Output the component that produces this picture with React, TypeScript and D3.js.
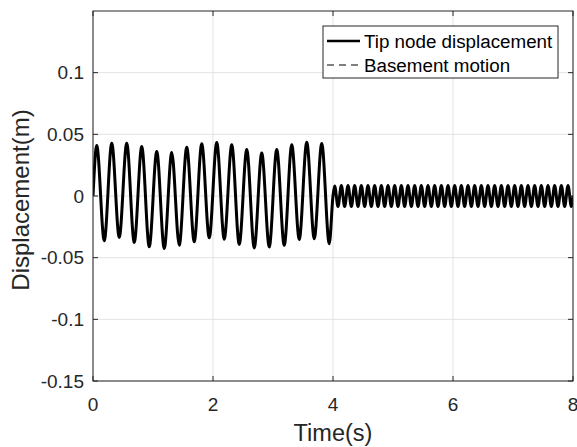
import React from "react";
import * as d3 from "d3";

const xTicks = [0, 2, 4, 6, 8];
const xTickLabels = ["0", "2", "4", "6", "8"];
const yTicks = [-0.15, -0.1, -0.05, 0, 0.05, 0.1];
const yTickLabels = ["-0.15", "-0.1", "-0.05", "0", "0.05", "0.1"];
const seriesNames = ["Tip node displacement", "Basement motion"];
const xLabel = "Time(s)";
const yLabel = "Displacement(m)";

// Phase 1 (0–4 s): extreme points (start, then alternating peak / trough)
const phase1Times = [
  0, 0.0625, 0.1875, 0.3125, 0.4375, 0.5625, 0.6875, 0.8125, 0.9375, 1.0625, 1.1875,
  1.3125, 1.4375, 1.5625, 1.6875, 1.8125, 1.9375, 2.0625, 2.1875, 2.3125, 2.4375,
  2.5625, 2.6875, 2.8125, 2.9375, 3.0625, 3.1875, 3.3125, 3.4375, 3.5625, 3.6875,
  3.8125, 3.9375,
];
const phase1Tip = [
  0, 0.0409, -0.0363, 0.0428, -0.0336, 0.0428, -0.0377, 0.0401, -0.0412, 0.036, -0.0425,
  0.0352, -0.0399, 0.0395, -0.0371, 0.0423, -0.0339, 0.0434, -0.035, 0.0415, -0.0393,
  0.0377, -0.0421, 0.0348, -0.0413, 0.0377, -0.04, 0.0415, -0.0352, 0.0436, -0.0346,
  0.0425, -0.0387,
];
const phase1Base = [
  0, 0.0402, -0.0358, 0.0421, -0.0332, 0.0421, -0.0371, 0.0395, -0.0405, 0.0356, -0.0418,
  0.0348, -0.0393, 0.0389, -0.0366, 0.0416, -0.0335, 0.0427, -0.0346, 0.0408, -0.0387,
  0.0372, -0.0414, 0.0344, -0.0406, 0.0372, -0.0394, 0.0408, -0.0348, 0.0429, -0.0342,
  0.0418, -0.0381,
];

// Phase 2 (4–8 s): extreme points (start, alternating peak / trough, end)
const phase2Times = [
  4.0,
  4.028, 4.083, 4.139, 4.194, 4.25, 4.306, 4.361, 4.417, 4.472, 4.528, 4.583, 4.639,
  4.694, 4.75, 4.806, 4.861, 4.917, 4.972, 5.028, 5.083, 5.139, 5.194, 5.25, 5.306,
  5.361, 5.417, 5.472, 5.528, 5.583, 5.639, 5.694, 5.75, 5.806, 5.861, 5.917, 5.972,
  6.028, 6.083, 6.139, 6.194, 6.25, 6.306, 6.361, 6.417, 6.472, 6.528, 6.583, 6.639,
  6.694, 6.75, 6.806, 6.861, 6.917, 6.972, 7.028, 7.083, 7.139, 7.194, 7.25, 7.306,
  7.361, 7.417, 7.472, 7.528, 7.583, 7.639, 7.694, 7.75, 7.806, 7.861, 7.917, 7.972,
  8.0,
];
const phase2Tip = [
  0,
  0.0082, -0.0085, 0.0085, -0.0085, 0.0085, -0.0085, 0.0085, -0.0085, 0.0085, -0.0085, 0.0085, -0.0085,
  0.0085, -0.0085, 0.0085, -0.0085, 0.0085, -0.0085, 0.0085, -0.0085, 0.0085, -0.0085, 0.0085, -0.0085,
  0.0085, -0.0085, 0.0085, -0.0085, 0.0085, -0.0085, 0.0085, -0.0085, 0.0085, -0.0085, 0.0085, -0.0085,
  0.0085, -0.0085, 0.0085, -0.0085, 0.0085, -0.0085, 0.0085, -0.0085, 0.0085, -0.0085, 0.0085, -0.0085,
  0.0085, -0.0085, 0.0085, -0.0085, 0.0085, -0.0085, 0.0085, -0.0085, 0.0085, -0.0085, 0.0085, -0.0085,
  0.0085, -0.0085, 0.0085, -0.0085, 0.0085, -0.0085, 0.0085, -0.0085, 0.0085, -0.0085, 0.0085, -0.0085,
  0,
];
const phase2Base = [
  0,
  0.0078, -0.008, 0.008, -0.008, 0.008, -0.008, 0.008, -0.008, 0.008, -0.008, 0.008, -0.008,
  0.008, -0.008, 0.008, -0.008, 0.008, -0.008, 0.008, -0.008, 0.008, -0.008, 0.008, -0.008,
  0.008, -0.008, 0.008, -0.008, 0.008, -0.008, 0.008, -0.008, 0.008, -0.008, 0.008, -0.008,
  0.008, -0.008, 0.008, -0.008, 0.008, -0.008, 0.008, -0.008, 0.008, -0.008, 0.008, -0.008,
  0.008, -0.008, 0.008, -0.008, 0.008, -0.008, 0.008, -0.008, 0.008, -0.008, 0.008, -0.008,
  0.008, -0.008, 0.008, -0.008, 0.008, -0.008, 0.008, -0.008, 0.008, -0.008, 0.008, -0.008,
  0,
];

const W = 577;
const H = 447;
const left = 93;
const right = 573;
const top = 11;
const bottom = 381;
const axisColor = "#262626";
const gridColor = "#e3e3e3";
const font = "'Liberation Sans', Arial, Helvetica, sans-serif";

export default function App() {
  const x = d3.scaleLinear().domain([0, 8]).range([left, right]);
  const y = d3.scaleLinear().domain([-0.15, 0.15]).range([bottom, top]);

  const times = [...phase1Times, ...phase2Times];
  const tip = [...phase1Tip, ...phase2Tip];
  const base = [...phase1Base, ...phase2Base];

  const line = d3
    .line<[number, number]>()
    .x((d) => x(d[0]))
    .y((d) => y(d[1]))
    .curve(d3.curveMonotoneX);

  const tipPath = line(times.map((t, i) => [t, tip[i]] as [number, number])) || "";
  const basePath = line(times.map((t, i) => [t, base[i]] as [number, number])) || "";

  const tickLen = 5;

  return (
    <svg
      width={W}
      height={H}
      style={{ position: "absolute", left: 0, top: 0, background: "#fff" }}
      fontFamily={font}
    >
      <defs>
        <clipPath id="plotClip">
          <rect x={left} y={top} width={right - left} height={bottom - top} />
        </clipPath>
      </defs>
      <rect x={0} y={0} width={W} height={H} fill="#fff" />
      {/* grid */}
      {xTicks.map((t) => (
        <line key={"gx" + t} x1={x(t)} x2={x(t)} y1={top} y2={bottom} stroke={gridColor} strokeWidth={1} />
      ))}
      {yTicks.map((t) => (
        <line key={"gy" + t} x1={left} x2={right} y1={y(t)} y2={y(t)} stroke={gridColor} strokeWidth={1} />
      ))}
      {/* data */}
      <g clipPath="url(#plotClip)">
        <path d={tipPath} fill="none" stroke="#000" strokeWidth={3} strokeLinejoin="round" />
        <path d={basePath} fill="none" stroke="#000" strokeWidth={1} strokeDasharray="6,4" />
      </g>
      {/* box */}
      <rect x={left} y={top} width={right - left} height={bottom - top} fill="none" stroke={axisColor} strokeWidth={1} />
      {/* ticks */}
      {xTicks.map((t) => (
        <g key={"tx" + t}>
          <line x1={x(t)} x2={x(t)} y1={bottom} y2={bottom - tickLen} stroke={axisColor} />
          <line x1={x(t)} x2={x(t)} y1={top} y2={top + tickLen} stroke={axisColor} />
        </g>
      ))}
      {yTicks.map((t) => (
        <g key={"ty" + t}>
          <line x1={left} x2={left + tickLen} y1={y(t)} y2={y(t)} stroke={axisColor} />
          <line x1={right} x2={right - tickLen} y1={y(t)} y2={y(t)} stroke={axisColor} />
        </g>
      ))}
      {/* tick labels */}
      {xTicks.map((t, i) => (
        <text key={"lx" + t} x={x(t)} y={411} textAnchor="middle" fontSize={19} fill={axisColor}>
          {xTickLabels[i]}
        </text>
      ))}
      {yTicks.map((t, i) => (
        <text key={"ly" + t} x={84} y={y(t)} textAnchor="end" dominantBaseline="central" fontSize={19} fill={axisColor}>
          {yTickLabels[i]}
        </text>
      ))}
      {/* axis labels */}
      <text x={(left + right) / 2} y={441} textAnchor="middle" fontSize={23.5} fill={axisColor}>
        {xLabel}
      </text>
      <text
        transform={`translate(29,200) rotate(-90)`}
        textAnchor="middle"
        fontSize={24}
        fill={axisColor}
      >
        {yLabel}
      </text>
      {/* legend */}
      <g>
        <rect x={323} y={26} width={235} height={52} fill="#fff" stroke={axisColor} strokeWidth={1} />
        <line x1={327} x2={360} y1={41} y2={41} stroke="#000" strokeWidth={2.6} />
        <line x1={327} x2={360} y1={65} y2={65} stroke="#000" strokeWidth={1} strokeDasharray="7,5" />
        <text x={364} y={41} dominantBaseline="central" fontSize={18.8} fill="#000">
          {seriesNames[0]}
        </text>
        <text x={364} y={65} dominantBaseline="central" fontSize={18.8} fill="#000">
          {seriesNames[1]}
        </text>
      </g>
    </svg>
  );
}
